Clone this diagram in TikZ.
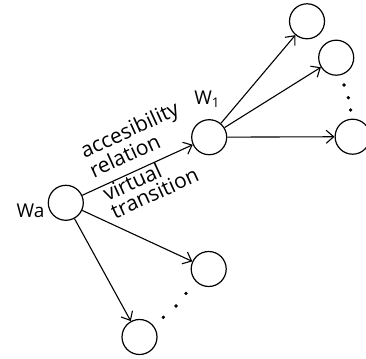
\documentclass[tikz,border=0pt]{standalone}
\usepackage{fontspec}
\setmainfont{Open Sans}
\usetikzlibrary{positioning}
\usetikzlibrary{arrows.meta}

\begin{document}
\begin{tikzpicture}
		[
			x = 1pt, y = 1pt,
			world/.style = {circle, draw = black, line width = 1.2pt, minimum size = 35pt, inner sep = 0pt},
			access/.style = {line width = 1.1pt, -{Straight Barb[length = 7.5pt, width = 13pt, line width = 1.1pt]}},
			worldname/.style = {font = \fontsize{19}{22}\selectfont, inner sep = 0pt},
			relname/.style = {font = \fontsize{21}{19}\selectfont, align = left, sloped, inner xsep = 0pt},
			dot/.style = {circle, fill = black, draw = black, inner sep = 0cm, minimum size = 3pt},
		]
			%
			\useasboundingbox (0,0) rectangle (366,358);
			%
			\node (wa) [world] at (65.8,155.2) {};
			\node (w1) [world] at (209.2,220.8) {};
			\node (w1a) [world] at (307.0,336.7) {};
			\node (w1b) [world] at (336.2,300.3) {};
			\node (w1c) [world] at (352.6,221.3) {};
			\node (wad) [world] at (208.7,89.0) {};
			\node (wae) [world] at (139.5,21.0) {};
			%
			\node (walabel) [worldname, anchor = east, xshift = -3pt, yshift = -8pt] at (wa.west) {Wa};
			\node (w1label) [worldname, above = 11pt of w1, xshift = -2pt] {W\textsubscript{1}};
			%
			\draw [access] (wa) --
				node [relname, anchor = south west, pos = 0.14, inner ysep = 10pt] {accesibility\\relation}
				node [relname, anchor = north west, pos = 0.16, inner ysep = 0pt] {virtual\\transition}
				(w1);
			\draw [access] (wa) -- (wad);
			\draw [access] (wa) -- (wae);
			%
			\draw [access] (w1) -- (w1a);
			\draw [access] (w1) -- (w1b);
			\draw [access] (w1) -- (w1c);
			%
			\node (dotb1) [dot] at (344.0,273.0) {};
			\node (dotb2) [dot] at (348.3,260.3) {};
			\node (dotb3) [dot] at (350.7,248.0) {};
			\node (dotd1) [dot] at (186.0,64.7) {};
			\node (dotd2) [dot] at (176.0,52.0) {};
			\node (dotd3) [dot] at (163.3,40.7) {};
			%
		\end{tikzpicture}
\end{document}
